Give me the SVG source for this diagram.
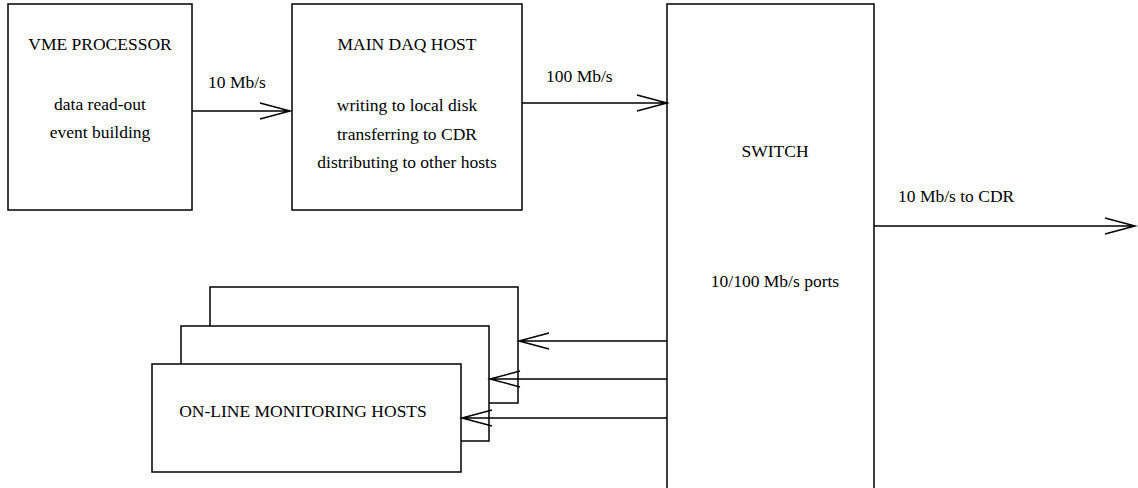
<svg xmlns="http://www.w3.org/2000/svg" width="1138" height="488" viewBox="0 0 1138 488">
<style>
.box{fill:#fff;stroke:#000;stroke-width:1.5}
.ln{fill:none;stroke:#000;stroke-width:1.5}
text{font-family:"Liberation Serif","Times New Roman",serif;font-size:17.5px;fill:#000}
.c{text-anchor:middle}
</style>
<g id="vme">
<rect class="box" x="8" y="4" width="184" height="206"/>
<text class="c" x="100" y="50">VME PROCESSOR</text>
<text class="c" x="100" y="110">data read-out</text>
<text class="c" x="100" y="138">event building</text>
</g>
<g id="daq">
<rect class="box" x="292" y="4" width="230" height="206"/>
<text class="c" x="407" y="50">MAIN DAQ HOST</text>
<text class="c" x="407" y="111">writing to local disk</text>
<text class="c" x="407" y="140">transferring to CDR</text>
<text class="c" x="407" y="168">distributing to other hosts</text>
</g>
<g id="switch">
<rect class="box" x="667" y="4" width="207" height="490"/>
<text class="c" x="775" y="157">SWITCH</text>
<text class="c" x="775" y="287">10/100 Mb/s ports</text>
</g>
<g id="monitor">
<rect class="box" x="210" y="287" width="308" height="116"/>
<rect class="box" x="181" y="326" width="308" height="115"/>
<rect class="box" x="152" y="364" width="309" height="108"/>
<text class="c" x="303" y="417">ON-LINE MONITORING HOSTS</text>
</g>
<g id="connectors">
<path class="ln" d="M192 111H290M260 103L290 111L260 119"/>
<text x="208" y="88">10 Mb/s</text>
<path class="ln" d="M522 103H667M637 95L667 103L637 111"/>
<text x="546" y="82">100 Mb/s</text>
<path class="ln" d="M874 226H1135M1105 218L1135 226L1105 234"/>
<text x="898" y="202">10 Mb/s to CDR</text>
<path class="ln" d="M667 341H519M549 333L519 341L549 349"/>
<path class="ln" d="M667 379H490M520 371L490 379L520 387"/>
<path class="ln" d="M667 418H462M492 410L462 418L492 426"/>
</g>
</svg>
